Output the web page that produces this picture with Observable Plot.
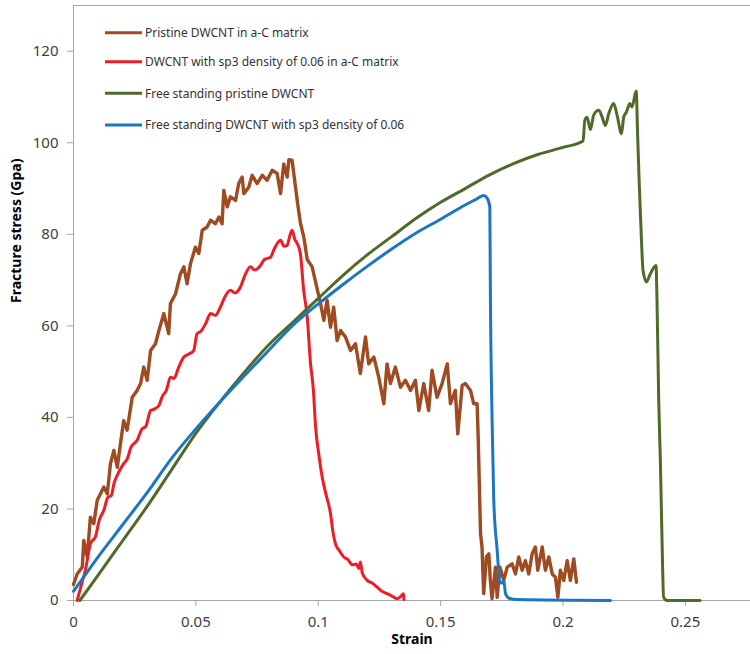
<!DOCTYPE html>
<html>
<head>
<meta charset="utf-8">
<script src="https://cdn.jsdelivr.net/npm/d3@7"></script>
<script src="https://cdn.jsdelivr.net/npm/@observablehq/plot@0.6"></script>
<style>
  html, body { margin: 0; padding: 0; background: #fff; }
  #wrap { position: relative; width: 750px; height: 654px; }
  #legend { position: absolute; left: 0; top: 0; pointer-events: none; }
</style>
</head>
<body>
<div id="wrap"></div>
<script>
// ---- Data (strain, stress in GPa) ----
const seriesNames = [
  "Pristine DWCNT in a-C matrix",
  "DWCNT with sp3 density of 0.06 in a-C matrix",
  "Free standing pristine DWCNT",
  "Free standing DWCNT with sp3 density of 0.06"
];
const seriesColors = ["#9E4B22", "#EE1D25", "#4F6A29", "#1C76C4"];
const strainTicks = [0, 0.05, 0.1, 0.15, 0.2, 0.25];
const stressTicks = [0, 20, 40, 60, 80, 100, 120];

const pristineMatrix = [
  [0,3.5],[0.0015,5.8],[0.0036,7.3],[0.0042,13.1],[0.0056,9.5],[0.0069,18.2],[0.0083,16.8],[0.0097,21.9],
  [0.0124,24.8],[0.0138,23.3],[0.0151,29.9],[0.0165,32.8],[0.0179,29.1],[0.0192,34.3],[0.0205,39.3],[0.0219,37.2],
  [0.024,44.4],[0.026,45.9],[0.0274,47.4],[0.0287,51],[0.0301,48.1],[0.0315,54.6],[0.0335,56.1],[0.0349,59],
  [0.0369,62.7],[0.0389,58.3],[0.0396,64.9],[0.0417,67],[0.0437,71.4],[0.0451,72.9],[0.0464,69.2],[0.0478,73.6],
  [0.0498,77.2],[0.0512,75.8],[0.0526,80.9],[0.0546,81.6],[0.056,83.1],[0.058,82.3],[0.0594,83.8],[0.0607,82.3],
  [0.0614,89.6],[0.0628,86],[0.0641,88.2],[0.0662,87.4],[0.0675,91.1],[0.0689,92.5],[0.0696,88.9],[0.0716,90.3],
  [0.073,92.9],[0.075,91.1],[0.0771,92.9],[0.0791,91.8],[0.0812,94],[0.0832,93.3],[0.0846,88.9],[0.0859,95.4],
  [0.0873,92.5],[0.088,96.3],[0.0893,96.2],[0.09,93.3],[0.0914,87.4],[0.0927,82.5],[0.0941,79.4],[0.0955,74.5],
  [0.0975,72.9],[0.0995,68.2],[0.1009,64.9],[0.1023,61.2],[0.1036,65.6],[0.105,59.7],[0.1063,64.1],[0.1077,56.8],
  [0.1091,59],[0.1111,57.6],[0.1132,54.6],[0.1152,56.1],[0.1172,49.6],[0.1193,57.6],[0.1206,51.7],[0.1227,53.2],
  [0.1247,48.8],[0.1268,43],[0.1281,51.7],[0.1295,47.4],[0.1315,51],[0.1336,46.6],[0.1356,48.1],[0.1377,45.9],
  [0.1397,48.1],[0.1411,41.5],[0.1431,47.4],[0.1451,41.5],[0.1465,50.3],[0.1485,44.4],[0.1506,47.4],[0.1527,51.7],
  [0.154,43],[0.156,45.9],[0.157,36.4],[0.1588,47],[0.1601,47.4],[0.1622,45.9],[0.1635,43],[0.1649,43],
  [0.1653,36.4],[0.1656,30],[0.1663,14.6],[0.1669,11.7],[0.1676,1.5],[0.1687,9.5],[0.1697,10.2],[0.1703,4.4],
  [0.171,0.4],[0.1724,7.3],[0.1731,0.7],[0.1742,7.3],[0.1758,4.4],[0.1772,7.3],[0.1792,8],[0.1806,5.8],
  [0.1819,9.5],[0.1833,6.6],[0.1846,8.7],[0.186,5.8],[0.1874,10.2],[0.1887,11.7],[0.1897,6.6],[0.1915,11.7],
  [0.1928,6.6],[0.1942,9.5],[0.1956,5.8],[0.1969,5.1],[0.1979,0.7],[0.1989,6.6],[0.2003,4.4],[0.2017,8.7],
  [0.203,4.4],[0.2044,9.1],[0.2055,4]
];

const sp3Matrix = [
  [0.0015,0],[0.003,3],[0.005,7],[0.0069,12.4],[0.009,14],[0.0105,17.5],[0.0124,19.7],[0.014,22.5],[0.0155,23],
  [0.0165,25.5],[0.018,27.5],[0.0205,29.9],[0.022,31],[0.0235,33.5],[0.026,35],[0.028,37.5],[0.0295,38],
  [0.0315,41.5],[0.033,41.8],[0.0349,42.6],[0.0362,44.5],[0.038,46],[0.0396,48.8],[0.041,48.5],[0.043,51],
  [0.0451,53.2],[0.047,53.8],[0.0491,54.6],[0.0505,58.3],[0.052,58.8],[0.054,60.5],[0.056,62.7],[0.058,62.3],
  [0.06,64.1],[0.062,66.5],[0.0641,67.8],[0.066,67.2],[0.0682,68.5],[0.07,71],[0.0723,72.9],[0.074,72.2],
  [0.0764,73.2],[0.078,74.5],[0.0805,75],[0.082,76.8],[0.0846,78.7],[0.086,77.4],[0.0873,77.6],[0.0883,79.5],
  [0.0893,80.9],[0.0905,78.8],[0.0914,78],[0.0927,75.8],[0.094,68],[0.0955,61.9],[0.0968,52],[0.098,46],
  [0.0989,38],[0.1002,32],[0.1016,27],[0.103,23.5],[0.105,19],[0.106,15],[0.107,12.4],[0.1085,11],[0.1104,9.5],
  [0.112,9],[0.114,7.8],[0.1155,8],[0.1166,7],[0.1172,8.4],[0.118,6],[0.12,4.4],[0.122,3.8],[0.1241,2.9],
  [0.126,2],[0.1281,1.5],[0.13,1],[0.1322,0.4],[0.1335,0.8],[0.1349,1.5],[0.135,0.2]
];

const pristineFree = [
  [0.0026,0],[0.01,5.5],[0.02,13],[0.03,20.5],[0.04,28.5],[0.05,36.5],[0.06,43.5],[0.07,50],[0.08,56],
  [0.09,61],[0.1,66],[0.11,71],[0.12,75.5],[0.13,79.5],[0.14,83.5],[0.15,87],[0.16,90],[0.17,93],[0.18,95.5],
  [0.19,97.5],[0.2,99],[0.2082,100.4],[0.2089,104.9],[0.2098,105.6],[0.2112,102.9],[0.2125,106],[0.2146,107.1],
  [0.216,105.6],[0.2173,103.8],[0.2187,106.4],[0.2207,108.6],[0.2221,106],[0.2239,102],[0.2248,105.6],
  [0.2259,106.7],[0.2273,108.6],[0.2282,107.8],[0.2299,111.3],[0.2305,101.3],[0.2312,90.3],[0.232,79.4],
  [0.2327,72.1],[0.2341,69.6],[0.2357,71.4],[0.238,73.2],[0.2384,65.6],[0.2391,43.7],[0.2398,30],[0.2405,12],
  [0.2411,0.7],[0.2425,0],[0.256,0]
];

const sp3Free = [
  [0,2],[0.002,3.5],[0.01,9.5],[0.02,16.5],[0.03,23.5],[0.04,31],[0.05,37.5],[0.06,43.5],[0.07,49.2],
  [0.08,54.8],[0.09,60.3],[0.1,64.8],[0.11,69],[0.12,73],[0.13,76.8],[0.14,80.3],[0.15,83.3],[0.16,86.4],
  [0.165,87.8],[0.1675,88.5],[0.169,87.9],[0.1701,86],[0.1703,69],[0.171,40],[0.1717,22],[0.1731,11],
  [0.1742,4],[0.175,3.8],[0.1758,4.4],[0.1765,1.5],[0.178,0.5],[0.1812,0.2],[0.2194,0]
];

const allSeries = [pristineMatrix, sp3Matrix, pristineFree, sp3Free];
const rows = allSeries.flatMap((s, i) => s.map(([strain, stress]) => ({strain, stress, series: seriesNames[i]})));
const curves = ["linear", "monotone-x", "monotone-x", "monotone-x"];

const axisGray = "#A6A6A6";
const chart = Plot.plot({
  width: 750,
  height: 654,
  marginLeft: 73,
  marginRight: 0,
  marginTop: 5,
  marginBottom: 54,
  x: {domain: [0, 0.2766]},
  y: {domain: [0, 130]},
  color: {domain: seriesNames, range: seriesColors},
  style: {fontFamily: "Noto Sans", fontSize: "15px", color: "#404040", background: "#fff"},
  marks: [
    Plot.ruleY([130], {stroke: axisGray, strokeWidth: 1}),
    Plot.ruleY([0], {stroke: axisGray, strokeWidth: 1}),
    Plot.ruleX([0], {stroke: axisGray, strokeWidth: 1}),
    Plot.axisX({ticks: strainTicks, tickFormat: d => String(d), tickSize: 6, tickPadding: 10, stroke: axisGray, fill: "#404040", label: null}),
    Plot.axisY({ticks: stressTicks, tickFormat: d => String(d), tickSize: 6, tickPadding: 9, stroke: axisGray, fill: "#404040", label: null}),
    ...allSeries.map((s, i) => Plot.line(rows.filter(r => r.series === seriesNames[i]), {
      x: "strain", y: "stress", stroke: seriesColors[i], curve: curves[i],
      strokeWidth: i === 0 ? 3.4 : 3, strokeLinejoin: "round", strokeLinecap: "round"
    })),
    Plot.text(["Strain"], {frameAnchor: "bottom", dy: 43, fontWeight: "bold", fontSize: 14, fill: "#000"}),
    Plot.text(["Fracture stress (Gpa)"], {frameAnchor: "left", dx: -57, rotate: -90, fontWeight: "bold", fontSize: 14, fill: "#000"})
  ]
});

const wrap = document.getElementById("wrap");
wrap.appendChild(chart);

// Legend overlay inside plot area
const ns = "http://www.w3.org/2000/svg";
const leg = document.createElementNS(ns, "svg");
leg.setAttribute("id", "legend");
leg.setAttribute("width", 750);
leg.setAttribute("height", 160);
const legendY = [32.7, 61.7, 93.3, 125];
seriesNames.forEach((name, i) => {
  const ln = document.createElementNS(ns, "line");
  ln.setAttribute("x1", 105); ln.setAttribute("x2", 142);
  ln.setAttribute("y1", legendY[i]); ln.setAttribute("y2", legendY[i]);
  ln.setAttribute("stroke", seriesColors[i]); ln.setAttribute("stroke-width", 3);
  leg.appendChild(ln);
  const tx = document.createElementNS(ns, "text");
  tx.setAttribute("x", 145); tx.setAttribute("y", legendY[i]);
  tx.setAttribute("dy", "0.35em");
  tx.setAttribute("font-family", "Noto Sans");
  tx.setAttribute("font-size", 12);
  tx.setAttribute("fill", "#333");
  tx.textContent = name;
  leg.appendChild(tx);
});
wrap.appendChild(leg);
</script>
</body>
</html>
